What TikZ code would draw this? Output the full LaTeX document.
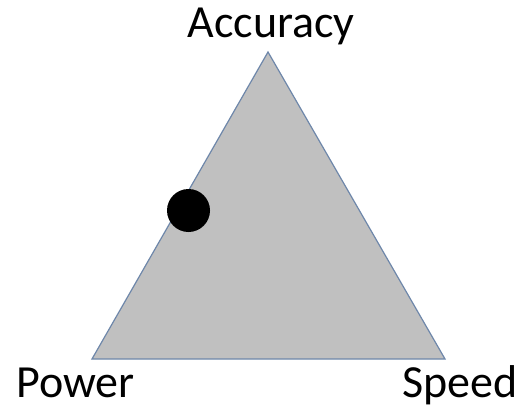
\documentclass[tikz,border=0pt]{standalone}
\usepackage{fontspec}
\setmainfont{Carlito}
\begin{document}
\begin{tikzpicture}[x=1pt,y=-1pt,
  lbl/.style={font=\fontsize{46}{48}\selectfont, inner sep=0pt, text=black}]
\useasboundingbox (0,0) rectangle (521,409);
\fill[white] (0,0) rectangle (521,409);
\coordinate (A) at (268,52);
\coordinate (P) at (92,359);
\coordinate (S) at (445,359);
\draw[fill={rgb,255:red,192;green,192;blue,192}, draw={rgb,255:red,110;green,135;blue,170}, line width=1.2pt, line join=miter] (A) -- (P) -- (S) -- cycle;
\node[circle, fill=black, minimum size=43pt, inner sep=0pt] (dot) at (188.5,210.5) {};
\node[lbl, anchor=base] (acc) at (271,38) {Accuracy};
\node[lbl, anchor=base west] (pow) at (16,397) {Power};
\node[lbl, anchor=base east] (spd) at (518,397) {Speed};
\end{tikzpicture}
\end{document}
